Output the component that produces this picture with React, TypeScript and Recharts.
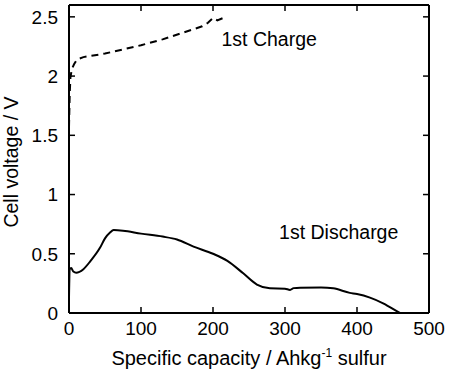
import { LineChart, Line, XAxis, YAxis, ReferenceDot, ReferenceLine } from "recharts";

const xTicks = [0, 100, 200, 300, 400, 500];
const yTicks = [0, 0.5, 1, 1.5, 2, 2.5];
const xMax = 500;
const yMax = 2.6;

const chargeCapacity = [0, 1, 2, 4, 7, 11, 20, 50, 100, 130, 160, 185, 193, 200, 206, 218];
const chargeVoltage = [1.57, 1.85, 1.99, 2.06, 2.1, 2.14, 2.16, 2.19, 2.26, 2.31, 2.37, 2.42, 2.45, 2.49, 2.47, 2.5];

const dischargeCapacity = [
  0, 1, 3, 6, 10, 20, 30, 43, 50, 57, 62, 75, 100, 130, 150, 173, 200, 220, 242, 261, 279,
  300, 307, 312, 321, 350, 367, 390, 400, 418, 437, 457, 460,
];
const dischargeVoltage = [
  0.13, 0.37, 0.38, 0.35, 0.34, 0.37, 0.44, 0.55, 0.63, 0.68, 0.7, 0.695, 0.67, 0.645, 0.62,
  0.56, 0.5, 0.44, 0.335, 0.24, 0.208, 0.205, 0.195, 0.21, 0.214, 0.215, 0.208, 0.17, 0.16,
  0.13, 0.08, 0.01, 0,
];

const charge = chargeCapacity.map((c, i) => ({ cap: c, v: chargeVoltage[i] }));
const discharge = dischargeCapacity.map((c, i) => ({ cap: c, v: dischargeVoltage[i] }));

// inward tick length in data units (about 6px)
const xTickLen = 8.3;
const yTickLen = 0.05;

const font = "'Liberation Sans', Arial, sans-serif";
const tickStyle = { fill: "#000", fontSize: 19, fontFamily: font };

function XLabel({ viewBox }: any) {
  const cx = viewBox.x + viewBox.width / 2;
  return (
    <text x={cx} y={viewBox.y + 52} textAnchor="middle" fontSize={20} fontFamily={font} fill="#000">
      Specific capacity / Ahkg
      <tspan fontSize={12} dy={-8}>-1</tspan>
      <tspan dy={8}> sulfur</tspan>
    </text>
  );
}

function YLabel({ viewBox }: any) {
  const cy = viewBox.y + viewBox.height / 2 + 3;
  return (
    <text
      x={18}
      y={cy}
      transform={`rotate(-90 18 ${cy})`}
      textAnchor="middle"
      fontSize={19.5}
      fontFamily={font}
      fill="#000"
    >
      Cell voltage / V
    </text>
  );
}

export default function App() {
  return (
    <div style={{ position: "absolute", left: 0, top: 0, background: "#fff" }}>
      <LineChart width={453} height={373} margin={{ top: 5, right: 24, left: 0, bottom: 0 }}>
        <XAxis
          dataKey="cap"
          type="number"
          domain={[0, xMax]}
          ticks={xTicks}
          height={60}
          tickSize={0}
          tickMargin={9}
          tick={tickStyle}
          axisLine={false}
          tickLine={false}
          allowDuplicatedCategory={false}
          label={<XLabel />}
        />
        <YAxis
          type="number"
          domain={[0, yMax]}
          ticks={yTicks}
          width={69}
          tickSize={0}
          tickMargin={11}
          tick={tickStyle}
          axisLine={false}
          tickLine={false}
          label={<YLabel />}
        />
        {xTicks.slice(1, -1).map((t) => (
          <ReferenceLine
            key={`xb${t}`}
            segment={[{ x: t, y: 0 }, { x: t, y: yTickLen }]}
            stroke="#000"
            strokeWidth={1.5}
            ifOverflow="visible"
          />
        ))}
        {xTicks.slice(1, -1).map((t) => (
          <ReferenceLine
            key={`xt${t}`}
            segment={[{ x: t, y: yMax }, { x: t, y: yMax - yTickLen }]}
            stroke="#000"
            strokeWidth={1.5}
            ifOverflow="visible"
          />
        ))}
        {yTicks.slice(1).map((t) => (
          <ReferenceLine
            key={`yl${t}`}
            segment={[{ x: 0, y: t }, { x: xTickLen, y: t }]}
            stroke="#000"
            strokeWidth={1.5}
            ifOverflow="visible"
          />
        ))}
        {yTicks.slice(1).map((t) => (
          <ReferenceLine
            key={`yr${t}`}
            segment={[{ x: xMax, y: t }, { x: xMax - xTickLen, y: t }]}
            stroke="#000"
            strokeWidth={1.5}
            ifOverflow="visible"
          />
        ))}
        <Line
          data={charge}
          dataKey="v"
          type="linear"
          stroke="#000"
          strokeWidth={2}
          strokeDasharray="7 5"
          dot={false}
          isAnimationActive={false}
        />
        <Line
          data={discharge}
          dataKey="v"
          type="monotone"
          stroke="#000"
          strokeWidth={2}
          dot={false}
          isAnimationActive={false}
        />
        <ReferenceLine x={0} stroke="#000" strokeWidth={2} ifOverflow="visible" />
        <ReferenceLine x={xMax} stroke="#000" strokeWidth={2} ifOverflow="visible" />
        <ReferenceLine y={0} stroke="#000" strokeWidth={2} ifOverflow="visible" />
        <ReferenceLine y={yMax} stroke="#000" strokeWidth={2} ifOverflow="visible" />
        <ReferenceDot
          x={278}
          y={2.31}
          r={0}
          ifOverflow="visible"
          label={{ value: "1st Charge", position: "center", fontSize: 19.5, fontFamily: font, fill: "#000" }}
        />
        <ReferenceDot
          x={374.6}
          y={0.687}
          r={0}
          ifOverflow="visible"
          label={{ value: "1st Discharge", position: "center", fontSize: 19.5, fontFamily: font, fill: "#000" }}
        />
      </LineChart>
    </div>
  );
}
